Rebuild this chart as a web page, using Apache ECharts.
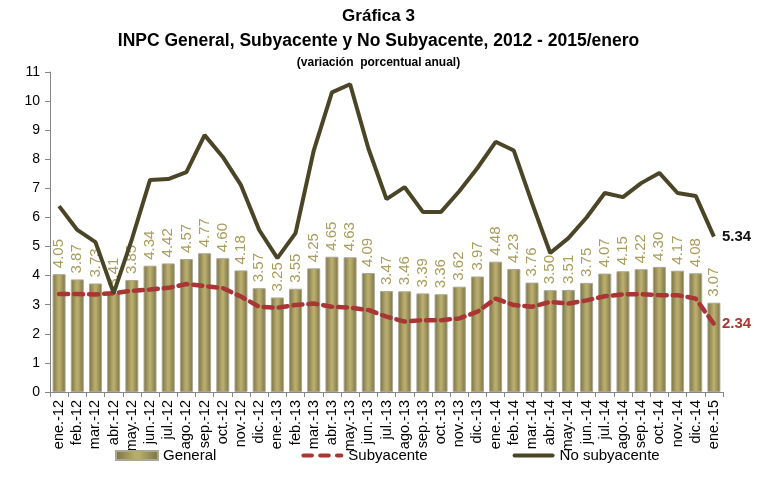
<!DOCTYPE html>
<html>
<head>
<meta charset="utf-8">
<script src="https://cdn.jsdelivr.net/npm/echarts@6/dist/echarts.min.js"></script>
<style>
  html, body { margin: 0; padding: 0; background: #fff; }
  #chart { width: 757px; height: 492px; }
</style>
</head>
<body>
<div id="chart"></div>
<script>
// meses ene-12 .. ene-15
const meses = [
  "ene.-12", "feb.-12", "mar.-12", "abr.-12", "may.-12", "jun.-12", "jul.-12", "ago.-12", "sep.-12", "oct.-12", "nov.-12", "dic.-12",
  "ene.-13", "feb.-13", "mar.-13", "abr.-13", "may.-13", "jun.-13", "jul.-13", "ago.-13", "sep.-13", "oct.-13", "nov.-13", "dic.-13",
  "ene.-14", "feb.-14", "mar.-14", "abr.-14", "may.-14", "jun.-14", "jul.-14", "ago.-14", "sep.-14", "oct.-14", "nov.-14", "dic.-14",
  "ene.-15"
];
const general = [
  4.05, 3.87, 3.73, 3.41, 3.85, 4.34, 4.42, 4.57, 4.77, 4.60, 4.18, 3.57,
  3.25, 3.55, 4.25, 4.65, 4.63, 4.09, 3.47, 3.46, 3.39, 3.36, 3.62, 3.97,
  4.48, 4.23, 3.76, 3.50, 3.51, 3.75, 4.07, 4.15, 4.22, 4.30, 4.17, 4.08,
  3.07
];
const subyacente = [
  3.37, 3.37, 3.35, 3.40, 3.48, 3.52, 3.58, 3.71, 3.64, 3.57, 3.28, 2.93,
  2.90, 2.99, 3.04, 2.93, 2.90, 2.82, 2.59, 2.42, 2.47, 2.47, 2.53, 2.76,
  3.21, 2.99, 2.93, 3.10, 3.04, 3.15, 3.29, 3.36, 3.36, 3.33, 3.33, 3.21,
  2.34
];
const noSubyacente = [
  6.39, 5.57, 5.15, 3.40, 5.25, 7.29, 7.32, 7.56, 8.83, 8.08, 7.11, 5.57,
  4.60, 5.46, 8.30, 10.30, 10.58, 8.38, 6.63, 7.04, 6.19, 6.19, 6.90, 7.70,
  8.60, 8.30, 6.50, 4.78, 5.29, 6.00, 6.84, 6.70, 7.18, 7.53, 6.84, 6.74,
  5.34
];

const fuente = "'Liberation Sans Narrow', 'Liberation Sans', sans-serif";
const ultimo = meses.length - 1;

// etiqueta del ultimo dato (ene-15) con markPoint
function etiquetaFinal(valores, color) {
  return {
    silent: true,
    symbol: "circle",
    symbolSize: 0,
    data: [{
      coord: [ultimo, valores[ultimo]],
      value: valores[ultimo].toFixed(2)
    }],
    label: {
      show: true,
      position: "right",
      distance: 8,
      color: color,
      fontWeight: "bold",
      fontSize: 15,
      fontFamily: fuente
    }
  };
}

const chart = echarts.init(document.getElementById("chart"), null, { renderer: "canvas" });

const option = {
  animation: false,
  textStyle: { fontFamily: fuente },
  title: [
    {
      text: "Gráfica 3",
      left: "center", top: 3,
      textStyle: { fontSize: 17, fontWeight: "bold", color: "#000", fontFamily: fuente }
    },
    {
      text: "INPC General, Subyacente y No Subyacente, 2012 - 2015/enero",
      left: "center", top: 27,
      textStyle: { fontSize: 17.5, fontWeight: "bold", color: "#000", fontFamily: fuente }
    },
    {
      text: "(variación  porcentual anual)",
      left: "center", top: 52,
      textStyle: { fontSize: 12, fontWeight: "bold", color: "#000", fontFamily: fuente }
    }
  ],
  legend: {
    bottom: 24,
    left: 110,
    itemGap: 85,
    itemWidth: 42,
    itemHeight: 9,
    textStyle: { fontSize: 15, color: "#000", fontFamily: fuente },
    data: [
      { name: "General", icon: "rect" },
      { name: "Subyacente", icon: "path://M2,0h8a2,2 0 0 1 0,4h-8a2,2 0 0 1 0,-4z M18,0h8a2,2 0 0 1 0,4h-8a2,2 0 0 1 0,-4z M34,0h4a2,2 0 0 1 0,4h-4a2,2 0 0 1 0,-4z" },
      { name: "No subyacente", icon: "path://M2,0h38a2,2 0 0 1 0,4h-38a2,2 0 0 1 0,-4z" }
    ]
  },
  grid: {
    left: 50,
    right: 34,
    top: 72,
    bottom: 100,
    containLabel: false
  },
  xAxis: {
    type: "category",
    data: meses,
    axisLine: { lineStyle: { color: "#868686", width: 1 } },
    axisTick: { show: true, alignWithLabel: false, length: 5, lineStyle: { color: "#868686" } },
    axisLabel: {
      rotate: 90,
      interval: 0,
      fontSize: 14.5,
      color: "#000",
      margin: 8,
      fontFamily: fuente
    }
  },
  yAxis: {
    type: "value",
    min: 0,
    max: 11,
    interval: 1,
    splitLine: { show: false },
    axisLine: { show: true, lineStyle: { color: "#868686" } },
    axisTick: { show: true, length: 5, lineStyle: { color: "#868686" } },
    axisLabel: { fontSize: 14, color: "#000", margin: 10, fontFamily: fuente }
  },
  series: [
    {
      name: "General",
      type: "bar",
      data: general,
      barWidth: 13,
      itemStyle: {
        color: new echarts.graphic.LinearGradient(0, 0, 1, 0, [
          { offset: 0, color: "#7a7140" },
          { offset: 0.45, color: "#b8ac6e" },
          { offset: 0.55, color: "#b8ac6e" },
          { offset: 1, color: "#7a7140" }
        ]),
        borderColor: "#a9a795",
        borderWidth: 1
      },
      label: {
        show: true,
        position: "top",
        rotate: 90,
        align: "left",
        verticalAlign: "middle",
        distance: 6,
        formatter: function (p) { return p.value.toFixed(2); },
        color: "#a99c5c",
        fontSize: 15,
        fontFamily: fuente
      },
      z: 1
    },
    {
      name: "Subyacente",
      type: "line",
      data: subyacente,
      symbol: "none",
      lineStyle: { color: "#a93535", width: 4.5, type: [9, 6], cap: "round" },
      itemStyle: { color: "#a93535" },
      markPoint: etiquetaFinal(subyacente, "#a93535"),
      z: 3
    },
    {
      name: "No subyacente",
      type: "line",
      data: noSubyacente,
      symbol: "none",
      lineStyle: { color: "#4b4527", width: 4 },
      itemStyle: { color: "#4b4527" },
      markPoint: etiquetaFinal(noSubyacente, "#111"),
      z: 4
    }
  ]
};

chart.setOption(option);
</script>
</body>
</html>
